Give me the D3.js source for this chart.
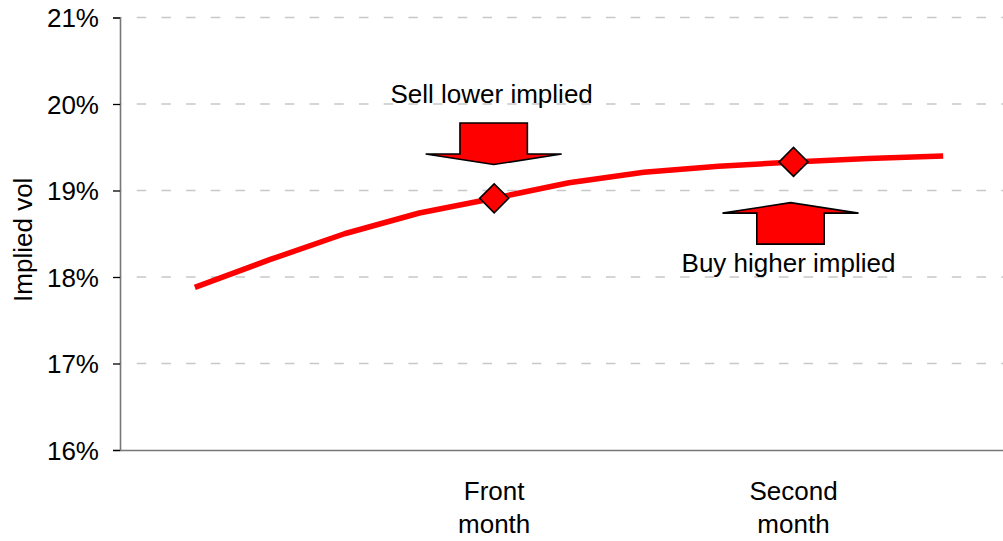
<!DOCTYPE html>
<html>
<head>
<meta charset="utf-8">
<script src="https://cdn.jsdelivr.net/npm/d3@7"></script>
<style>
  html, body { margin: 0; padding: 0; background: #fff; }
  svg { display: block; font-family: "Liberation Sans", Arial, sans-serif; }
</style>
</head>
<body>
<svg id="chart" width="1003" height="541"></svg>
<script>
// ---- Data ----
const categories = ["", "", "", "", "Front\nmonth", "", "", "", "Second\nmonth", "", ""];
const impliedVol = [17.88, 18.20, 18.50, 18.74, 18.91, 19.09, 19.21, 19.28, 19.33, 19.37, 19.40];
const yTicks = [16, 17, 18, 19, 20, 21];
const highlightIdx = [4, 8];
const annotations = [
  { idx: 4, dir: "down", text: "Sell lower implied", tipValue: 19.30 },
  { idx: 8, dir: "up", text: "Buy higher implied", tipValue: 18.86 }
];
const yLabel = "Implied vol";

// ---- Layout ----
const W = 1003, H = 541;
const plotLeft = 120, plotTop = 17.5, plotBottom = 450;
const svg = d3.select("#chart");

const x = d3.scaleLinear().domain([-1, categories.length]).range([plotLeft, 1018]);
const y = d3.scaleLinear().domain([16, 21]).range([plotBottom, plotTop]);

// gridlines
svg.append("g").selectAll("line")
  .data(yTicks.filter(t => t !== 16))
  .join("line")
  .attr("x1", plotLeft).attr("x2", W)
  .attr("y1", d => y(d)).attr("y2", d => y(d))
  .attr("stroke", "#c8c8c8").attr("stroke-width", 1.3)
  .attr("stroke-dasharray", "9.5,15.2").attr("stroke-dashoffset", 8);

// y axis
const yAxis = d3.axisLeft(y).tickValues(yTicks).tickFormat(d => d + "%").tickSize(7).tickPadding(14);
const gy = svg.append("g").attr("transform", `translate(${plotLeft},0)`).call(yAxis);
gy.select(".domain").attr("stroke", "#777").attr("stroke-width", 1.6);
gy.selectAll(".tick line").attr("stroke", "#000").attr("stroke-width", 1.3);
gy.selectAll(".tick text").attr("font-size", 26).attr("fill", "#000")
  .attr("font-family", '"Liberation Sans", Arial, sans-serif').attr("dy", "0.36em");

// x axis
const xAxis = d3.axisBottom(x).tickValues(d3.range(categories.length)).tickSize(0).tickFormat("");
const gx = svg.append("g").attr("transform", `translate(0,${plotBottom})`).call(xAxis);
gx.select(".domain").attr("stroke", "#777").attr("stroke-width", 1.6);

// category labels (multi-line)
const lab = svg.append("g").selectAll("text")
  .data(categories.map((c, i) => ({ c, i })).filter(d => d.c))
  .join("text")
  .attr("text-anchor", "middle")
  .attr("font-size", 26).attr("fill", "#000");
lab.each(function(d) {
  const lines = d.c.split("\n");
  d3.select(this).selectAll("tspan").data(lines).join("tspan")
    .attr("x", x(d.i)).attr("y", (l, k) => 500 + k * 33).text(l => l);
});

// y label
svg.append("text")
  .attr("transform", `translate(32,${(plotTop + plotBottom) / 2 + 6}) rotate(-90)`)
  .attr("text-anchor", "middle").attr("font-size", 26).attr("fill", "#000")
  .text(yLabel);

// line
const line = d3.line().x((d, i) => x(i)).y(d => y(d));
svg.append("path").datum(impliedVol)
  .attr("d", line).attr("fill", "none")
  .attr("stroke", "#ff0000").attr("stroke-width", 5.5).attr("stroke-linejoin", "round");

// diamonds
svg.append("g").selectAll("path")
  .data(highlightIdx)
  .join("path")
  .attr("d", d3.symbol().type(d3.symbolSquare).size(420))
  .attr("transform", d => `translate(${x(d)},${y(impliedVol[d])}) rotate(45)`)
  .attr("fill", "#ff0000").attr("stroke", "#000").attr("stroke-width", 1.6);

// annotation arrows
annotations.forEach(a => {
  const cx = x(a.idx) - (a.dir === "up" ? 3 : 0.5);
  const ty = y(a.tipValue);
  const s = a.dir === "down" ? -1 : 1; // body extends away from tip
  const headH = 10.5, shaftL = 31, sh = 33.7, wh = 68;
  const wy = ty + s * headH;
  const by = wy + s * shaftL;
  const pts = [[cx, ty], [cx + wh, wy], [cx + sh, wy], [cx + sh, by], [cx - sh, by], [cx - sh, wy], [cx - wh, wy]];
  svg.append("path")
    .attr("d", "M" + pts.map(p => p.join(",")).join("L") + "Z")
    .attr("fill", "#ff0000").attr("stroke", "#000").attr("stroke-width", 1.6)
    .attr("stroke-linejoin", "miter");
  svg.append("text")
    .attr("x", cx - 2)
    .attr("y", a.dir === "down" ? 103 : 272)
    .attr("text-anchor", "middle").attr("font-size", 26).attr("fill", "#000")
    .text(a.text);
});
</script>
</body>
</html>
